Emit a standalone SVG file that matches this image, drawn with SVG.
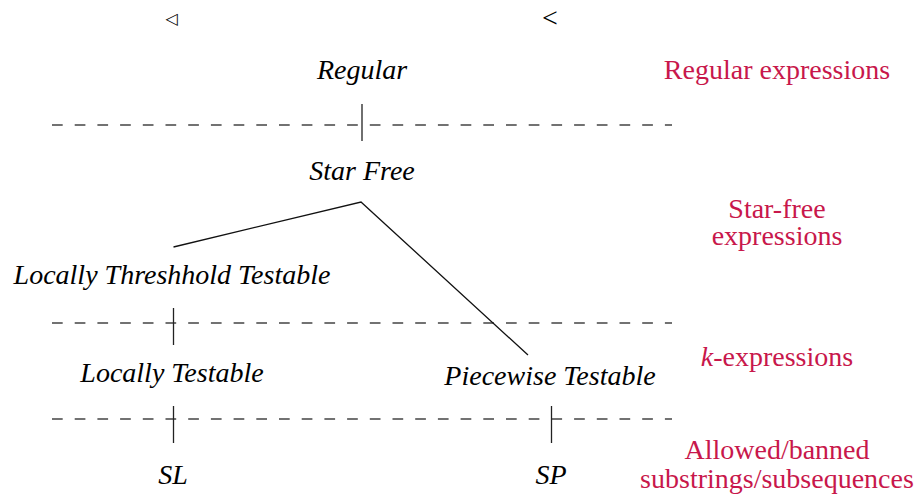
<svg xmlns="http://www.w3.org/2000/svg" width="920" height="494" viewBox="0 0 920 494">
  <style>
    .serif { font-family: "Liberation Serif", "Times New Roman", Times, Tinos, "DejaVu Serif", serif; }
    .node { font-style: italic; font-size: 28px; fill: #000; text-anchor: middle; }
    .note { font-size: 28px; fill: #c8174b; text-anchor: middle; }
    .sep { stroke: #444; stroke-width: 1.3; stroke-dasharray: 10.7 12; fill: none; }
    .tick { stroke: #222; stroke-width: 1.3; fill: none; }
    .edge { stroke: #111; stroke-width: 1.3; fill: none; }
  </style>
  <rect width="920" height="494" fill="#fff"/>

  <!-- column symbols -->
  <text x="172" y="24" font-family="DejaVu Sans, sans-serif" font-size="16" text-anchor="middle">◁</text>
  <text class="serif" x="550" y="27" font-size="28" text-anchor="middle">&lt;</text>

  <!-- level separators -->
  <g id="separators">
    <line class="sep" x1="52" y1="125" x2="672" y2="125"/>
    <line class="sep" x1="52" y1="323" x2="672" y2="323"/>
    <line class="sep" x1="52" y1="419" x2="672" y2="419"/>
  </g>

  <!-- connectors -->
  <g id="connectors">
    <line class="tick" x1="362" y1="104" x2="362" y2="141"/>
    <line class="tick" x1="173.5" y1="308" x2="173.5" y2="345"/>
    <line class="tick" x1="173.5" y1="406" x2="173.5" y2="443"/>
    <line class="tick" x1="551.5" y1="406" x2="551.5" y2="443"/>
    <polyline class="edge" points="173.5,247 361,202 528,355"/>
  </g>

  <g class="serif">
    <g id="regular"><text class="node" x="362" y="79">Regular</text></g>
    <g id="star-free"><text class="node" x="362" y="180">Star Free</text></g>
    <g id="ltt"><text class="node" x="172" y="284">Locally Threshhold Testable</text></g>
    <g id="lt"><text class="node" x="172" y="382">Locally Testable</text></g>
    <g id="pt"><text class="node" x="550" y="385">Piecewise Testable</text></g>
    <g id="sl"><text class="node" x="173" y="484">SL</text></g>
    <g id="sp"><text class="node" x="551" y="484">SP</text></g>

    <!-- level descriptions -->
    <g id="notes">
      <text class="note" x="777" y="79">Regular expressions</text>
      <text class="note" x="777" y="218">Star-free</text>
      <text class="note" x="777" y="245">expressions</text>
      <text class="note" x="777" y="366"><tspan font-style="italic">k</tspan>-expressions</text>
      <text class="note" x="777" y="459">Allowed/banned</text>
      <text class="note" x="777" y="488">substrings/subsequences</text>
    </g>
  </g>
</svg>
